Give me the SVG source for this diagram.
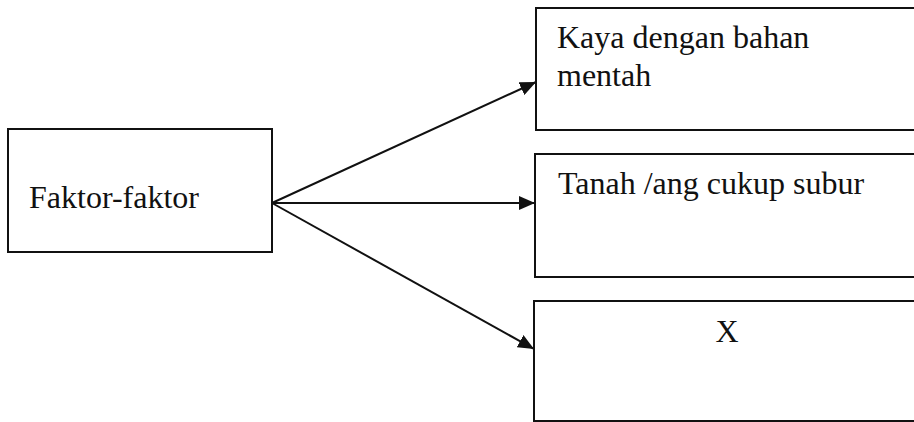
<svg xmlns="http://www.w3.org/2000/svg" width="914" height="422" viewBox="0 0 914 422">
<style>
.box{fill:#fff;stroke:#111;stroke-width:2}
.t{font-family:"Liberation Serif","Times New Roman",serif;font-size:32px;fill:#111}
.c{stroke:#111;stroke-width:2;fill:none}
</style>
<defs>
<marker id="ah" markerUnits="userSpaceOnUse" markerWidth="18" markerHeight="14" refX="16" refY="7" orient="auto">
<path d="M0,0 L16,7 L0,14 Z" fill="#111"/>
</marker>
</defs>
<rect width="914" height="422" fill="#fff"/>
<g id="connectors">
<line class="c" x1="272" y1="203" x2="536" y2="82" marker-end="url(#ah)"/>
<line class="c" x1="272" y1="203" x2="535" y2="203" marker-end="url(#ah)"/>
<line class="c" x1="272" y1="203" x2="534" y2="349" marker-end="url(#ah)"/>
</g>
<g id="faktor">
<rect class="box" x="8" y="129" width="264" height="123"/>
<text class="t" x="29" y="208">Faktor-faktor</text>
</g>
<g id="kaya">
<rect class="box" x="536" y="8" width="390" height="122"/>
<text class="t" x="557" y="48">Kaya dengan bahan</text>
<text class="t" x="557" y="86">mentah</text>
</g>
<g id="tanah">
<rect class="box" x="535" y="154" width="390" height="123"/>
<text class="t" x="558" y="194">Tanah /ang cukup subur</text>
</g>
<g id="x">
<rect class="box" x="534" y="301" width="390" height="120"/>
<text class="t" x="727" y="342" text-anchor="middle">X</text>
</g>
</svg>
